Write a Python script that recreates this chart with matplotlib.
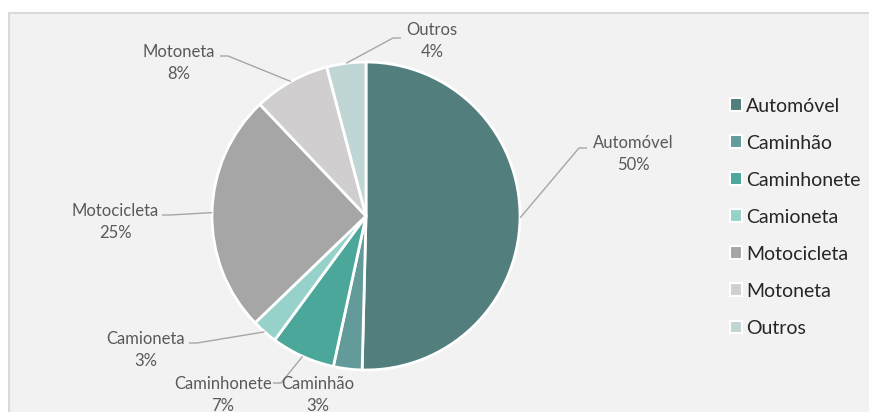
import numpy as np
import matplotlib.pyplot as plt
from matplotlib.patches import Rectangle

# Distribuição da frota por tipo de veículo
categorias = ['Automóvel', 'Caminhão', 'Caminhonete', 'Camioneta',
              'Motocicleta', 'Motoneta', 'Outros']
valores = [50.4, 3.0, 6.7, 2.7, 25.1, 8.0, 4.1]
cores = ['#527E7D', '#639B9B', '#4AA799', '#96D2CA',
         '#A6A6A6', '#D0CECE', '#C0D6D4']

W, H = 869, 412
plt.rcParams['font.family'] = ['Lato', 'DejaVu Sans']

fig = plt.figure(figsize=(W / 100, H / 100), dpi=100)
ax = fig.add_axes([0, 0, 1, 1])

# fundo da área do gráfico
ax.add_patch(Rectangle((9, -5), W, H - 13 + 5, facecolor='#F2F2F2',
                       edgecolor='#D9D9D9', linewidth=1.5, zorder=0))

cx, cy, r = 366, H - 216, 154
wedges, _ = ax.pie(valores, colors=cores, startangle=90, counterclock=False,
                   radius=r, center=(cx, cy), frame=True,
                   wedgeprops=dict(edgecolor='white', linewidth=2))
ax.set_xlim(0, W)
ax.set_ylim(0, H)
ax.set_aspect('equal')
ax.axis('off')

# posições dos rótulos (centro do bloco de texto, em pixels) e cotovelo da linha
rotulos = {
    'Automóvel':   ((633, 154), (579, 148), 'left'),
    'Caminhão':    ((318, 395), None, None),
    'Caminhonete': ((223, 395), (281, 383), 'right'),
    'Camioneta':   ((146, 350), (197, 343), 'right'),
    'Motocicleta': ((115, 222), (170, 215), 'right'),
    'Motoneta':    ((179, 63), (228, 56), 'right'),
    'Outros':      ((432, 41), (393, 38), 'left'),
}

cor_texto = '#595959'
for w, nome, v in zip(wedges, categorias, valores):
    (tx, ty), cotovelo, lado = rotulos[nome]
    ax.text(tx, H - ty, f'{nome}\n{v:.0f}%', ha='center', va='center',
            fontsize=12, color=cor_texto, linespacing=1.45)
    if cotovelo is None:
        continue
    ang = np.deg2rad((w.theta1 + w.theta2) / 2)
    px, py = cx + r * np.cos(ang), cy + r * np.sin(ang)
    ex, ey = cotovelo
    dx = 8 if lado == 'left' else -8
    ax.plot([px, ex, ex + dx], [py, H - ey, H - ey], color='#A6A6A6',
            linewidth=1, zorder=1, solid_capstyle='butt')

leg = ax.legend(wedges, categorias, loc='upper left',
                bbox_to_anchor=(712 / W, 1 - 80 / H), frameon=False,
                fontsize=14, handlelength=0.62, handleheight=0.62,
                handletextpad=0.25, labelspacing=1.03, labelcolor='#262626')
for h in leg.legend_handles:
    h.set_edgecolor('white')
    h.set_linewidth(1.5)

fig.savefig('out.png', dpi=100, facecolor='white')
